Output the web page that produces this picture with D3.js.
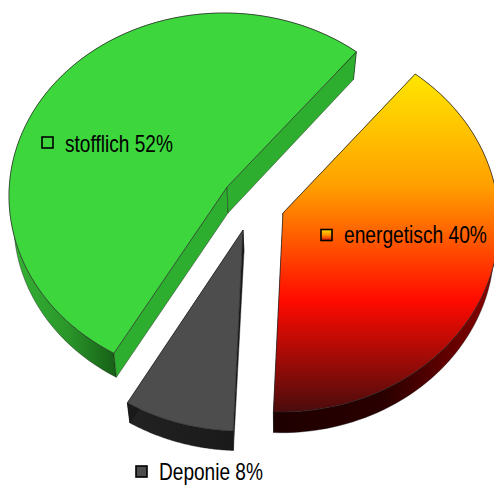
<!DOCTYPE html>
<html>
<head>
<meta charset="utf-8">
<script src="https://cdn.jsdelivr.net/npm/d3@7"></script>
<style>
html,body{margin:0;padding:0;background:#fff;overflow:hidden}
text{font-family:"Liberation Sans",Arial,sans-serif;fill:#000}
</style>
</head>
<body>
<div id="chart"></div>
<script>
// values of the pie
const categories = ["energetisch", "Deponie", "stofflich"];
const shares = [40, 8, 52];

const width = 494, height = 485;
const startDeg = 38;

// every slice has its own ellipse because of the explode and the perspective
const geo = {
	energetisch: {cx: 281, cy: 223, rx: 218, ry: 189, ax: 283, ay: 213, depth: 23, wall: "url(#sideRed)", inner: "#1a0000", top: "url(#faceRed)", key: "url(#keyRed)", lx: 326.5, ly: 235, tx: 344, tw: 143, by: 243},
	Deponie: {cx: 241, cy: 232, rx: 222, ry: 199, ax: 243, ay: 230, depth: 22, wall: "url(#sideGrey)", inner: "#1a1a1a", top: "#4d4d4d", key: "#4d4d4d", lx: 141.5, ly: 471.5, tx: 159, tw: 104, by: 480},
	stofflich: {cx: 224, cy: 196, rx: 215, ry: 183, ax: 227, ay: 187, depth: 26, wall: "url(#sideGreen)", inner: "#2eae2e", top: "#3dd63d", key: "#3dd63d", lx: 47.5, ly: 142.5, tx: 65, tw: 108, by: 152}
};
// the lower rim is a bit smaller, seen from above
const shrinkX = 0.022, shrinkY = 0.012;

const svg = d3.select("#chart").append("svg")
	.attr("width", width)
	.attr("height", height)
	.style("display", "block");

const defs = svg.append("defs");

function gradient(id, x1, y1, x2, y2, stops) {
	const g = defs.append("linearGradient").attr("id", id)
		.attr("gradientUnits", "userSpaceOnUse")
		.attr("x1", x1).attr("y1", y1).attr("x2", x2).attr("y2", y2);
	stops.forEach(s => g.append("stop").attr("offset", s[0]).attr("stop-color", s[1]));
}
gradient("faceRed", 0, 74, 0, 412, [[0, "#ffe600"], [0.33, "#ffa000"], [0.67, "#ff0a00"], [1, "#4a0c0c"]]);
gradient("sideRed", 274, 0, 494, 0, [[0, "#1e0000"], [0.5, "#2a0000"], [1, "#8a0000"]]);
gradient("sideGreen", 10, 0, 115, 0, [[0, "#35b535"], [0.55, "#2a962a"], [1, "#176017"]]);
gradient("sideGrey", 128, 0, 234, 0, [[0, "#222"], [1, "#1a1a1a"]]);
gradient("keyRed", 0, 229, 0, 241, [[0, "#ffe600"], [0.5, "#ff9000"], [1, "#e00000"]]);

const pie = d3.pie().sort(null)
	.startAngle(startDeg * Math.PI / 180)
	.endAngle((startDeg + 360) * Math.PI / 180);
const arcs = pie(shares);

const line = d3.line();

// walls first, the top face goes over them
arcs.forEach((d, i) => {
	const g = geo[categories[i]];
	const x = d3.scaleLinear().domain([-1, 1]).range([g.cx - g.rx, g.cx + g.rx]);
	const y = d3.scaleLinear().domain([-1, 1]).range([g.cy - g.ry, g.cy + g.ry]);
	const under = p => [p[0] + (g.cx - p[0]) * shrinkX, p[1] + g.depth + (g.cy - p[1]) * shrinkY];
	const steps = d3.range(0, 81).map(k => d.startAngle + (d.endAngle - d.startAngle) * k / 80);
	const rim = steps.map(a => [x(Math.sin(a)), y(-Math.cos(a))]);
	const low = rim.map(under).reverse();
	const first = rim[0], last = rim[rim.length - 1];
	const apex = [g.ax, g.ay];
	const layer = svg.append("g");

	layer.append("path")
		.attr("d", line(rim.concat(low)) + "Z")
		.attr("fill", g.wall)
		.attr("stroke", "#111")
		.attr("stroke-width", 0.4);
	[first, last].forEach(p => {
		layer.append("path")
			.attr("d", line([apex, p, under(p), [apex[0] + 1, apex[1] + g.depth]]) + "Z")
			.attr("fill", g.inner)
			.attr("stroke", "#111")
			.attr("stroke-width", 0.4);
	});
	layer.append("path")
		.attr("d", line([apex].concat(rim)) + "Z")
		.attr("fill", g.top)
		.attr("stroke", "#222")
		.attr("stroke-width", 0.6);
});

// labels with their little keys, the font is squeezed to the width of the original
arcs.forEach((d, i) => {
	const g = geo[categories[i]];
	svg.append("rect")
		.attr("x", g.lx - 5.5).attr("y", g.ly - 5.5)
		.attr("width", 11).attr("height", 11)
		.attr("fill", g.key)
		.attr("stroke", "#000")
		.attr("stroke-width", 1.6);
	const label = svg.append("text")
		.attr("font-size", 23)
		.text(categories[i] + " " + shares[i] + "%");
	const squeeze = g.tw / label.node().getComputedTextLength();
	label.attr("transform", "translate(" + g.tx + "," + g.by + ") scale(" + squeeze + ",1)");
});
</script>
</body>
</html>
